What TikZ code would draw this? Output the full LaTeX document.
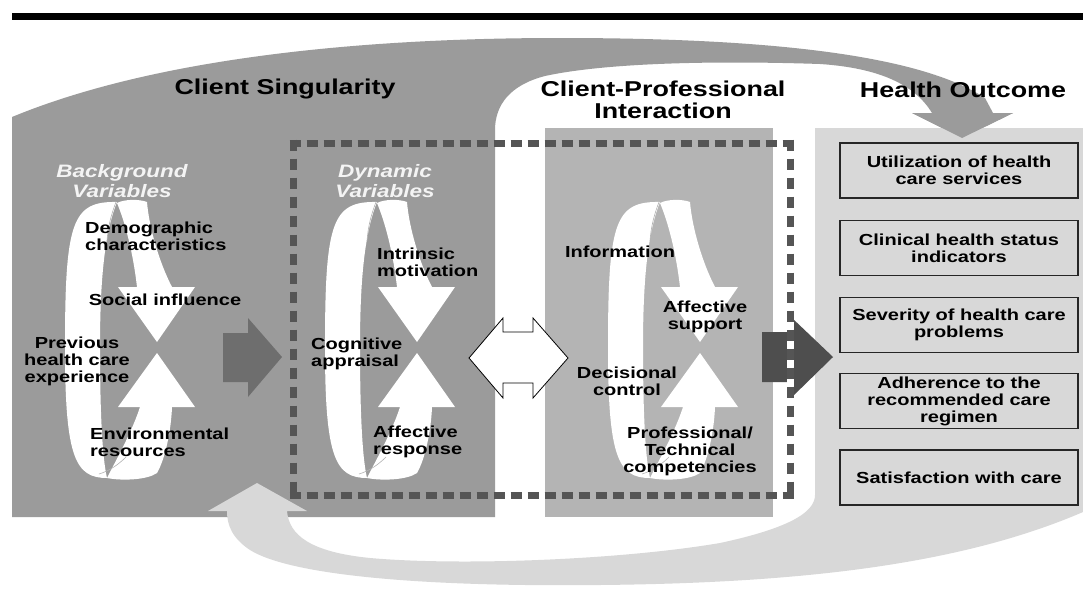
\documentclass[tikz,border=0pt]{standalone}
\usepackage{fontspec}
\newfontfamily\labfont{Liberation Sans}[FakeStretch=1.25]
\definecolor{cdark}{RGB}{155,155,155}
\definecolor{cmid}{RGB}{180,180,180}
\definecolor{clight}{RGB}{216,216,216}
\definecolor{carrowl}{RGB}{110,110,110}
\definecolor{carrowr}{RGB}{78,78,78}
\definecolor{cdash}{RGB}{85,85,85}
\definecolor{hdgcol}{RGB}{244,244,244}
\newcommand{\myloop}[1]{%
\begin{scope}[shift={#1}]
  \fill[white] (-40,-145) .. controls (-85,-146) and (-92,-125) .. (-92,0) .. controls (-92,110) and (-82,131) .. (-50,131) .. controls (-55,110) and (-57,60) .. (-57,0) .. controls (-57,-70) and (-52,-115) .. (-40,-145) -- cycle;
  \fill[white] (-20,-60) .. controls (-24,-95) and (-32,-125) .. (-40,-144) .. controls (-32,-148) and (-18,-148) .. (-10,-145) .. controls (-8,-120) and (2,-85) .. (15,-60) -- (38,-60) -- (0,-5) -- (-39,-60) -- cycle;
  \fill[white] (-39,60) -- (0,6) -- (38,60) -- (15,60) .. controls (14,85) and (8,112) .. (0,126) .. controls (-10,133) and (-35,134) .. (-50,131) .. controls (-42,115) and (-25,85) .. (-17,60) -- cycle;
  \draw[fold] (-41,-145) .. controls (-46,-132) and (-49,-120) .. (-50,-106);
  \draw[fold] (-31,110) .. controls (-39,118) and (-48,124) .. (-58,127);
\end{scope}}
\begin{document}
\begin{tikzpicture}[x=1pt,y=-1pt,
  lab/.style={font=\labfont\bfseries\fontsize{16}{17}\selectfont, inner sep=0pt, align=center, text=black},
  labl/.style={lab, align=left, anchor=west},
  ttl/.style={font=\labfont\bfseries\fontsize{21.5}{22}\selectfont, inner sep=0pt, align=center, text=black},
  hdg/.style={font=\labfont\bfseries\itshape\fontsize{18}{20}\selectfont, inner sep=0pt, align=center, text=hdgcol},
  obox/.style={draw=black!85, line width=1.4pt, fill=clight, minimum width=238pt, minimum height=55pt, inner sep=0pt, align=center, font=\labfont\bfseries\fontsize{16}{17}\selectfont},
  fold/.style={draw=black!30, line width=0.6pt},
  dashh/.style={draw=cdash, line width=7pt, dash pattern=on 11pt off 6pt},
  dashv/.style={draw=cdash, line width=7pt, dash pattern=on 11pt off 8pt}
]
\useasboundingbox (0,0) rectangle (1083,605);
\fill[white] (0,0) rectangle (1083,605);
% top rule
\fill[black] (12,13) rectangle (1083,20);
% client singularity region with top arrow
\fill[cdark] (12,517) -- (12,117) .. controls (150,60) and (350,38) .. (560,38) .. controls (770,38) and (920,55) .. (985,98) -- (993,113) -- (1013,113) -- (962,138) -- (912,113) -- (932,113) .. controls (915,85) and (880,68) .. (820,64) .. controls (700,60) and (600,64) .. (545,76) .. controls (510,85) and (495,105) .. (495,130) -- (495,517) -- cycle;
% client-professional panel
\fill[cmid] (545,128) rectangle (773,517);
% health outcome panel with return arrow
\fill[clight] (815,128) -- (1083,128) -- (1083,512) .. controls (960,565) and (800,583) .. (600,585) .. controls (420,587) and (290,575) .. (250,550) .. controls (232,538) and (227,525) .. (227,511) -- (208,511) -- (257,483) -- (307,511) -- (287,511) .. controls (289,535) and (310,552) .. (370,558) .. controls (460,566) and (620,560) .. (720,543) .. controls (790,528) and (815,512) .. (815,495) -- cycle;
\fill[cdark] (912,113) -- (1013,113) -- (962,138) -- cycle;
% loops
\myloop{(157,347)}
\myloop{(417,347)}
\myloop{(700,347)}
% arrows
\fill[carrowl] (223,333) -- (248,333) -- (248,318) -- (282,357) -- (248,397) -- (248,382) -- (223,382) -- cycle;
\fill[carrowr] (762,332) -- (792,332) -- (792,318) -- (833,357) -- (792,397) -- (792,382) -- (762,382) -- cycle;
\draw[black, line width=0.8pt, fill=white] (469,358) -- (503,318) -- (503,332) -- (533,332) -- (533,318) -- (568,358) -- (533,398) -- (533,383) -- (503,383) -- (503,398) -- cycle;
% dashed frame
\draw[white, line width=7pt] (790,322) -- (790,393);
\draw[dashh] (289.5,143) -- (793.5,143);
\draw[dashh] (289.5,495) -- (793.5,495);
\draw[dashv] (293,139.5) -- (293,498.5);
\draw[dashv] (790,139.5) -- (790,498.5);
% titles
\node[ttl] (t1) at (285,89) {Client Singularity};
\node[ttl] (t2) at (663,100) {Client-Professional\\Interaction};
\node[ttl] (t3) at (963,90) {Health Outcome};
\node[hdg] (h1) at (122,181) {Background\\Variables};
\node[hdg] (h2) at (385,181) {Dynamic\\Variables};
% loop 1 labels
\node[labl] (a1) at (85,236) {Demographic\\characteristics};
\node[lab] (a2) at (165,300) {Social influence};
\node[lab] (a3) at (77,361) {Previous\\health care\\experience};
\node[labl] (a4) at (90,442) {Environmental\\resources};
% loop 2 labels
\node[labl] (b1) at (377,262) {Intrinsic\\motivation};
\node[labl] (b2) at (311,354) {Cognitive\\appraisal};
\node[labl] (b3) at (373,442) {Affective\\response};
% loop 3 labels
\node[lab] (c1) at (620,252) {Information};
\node[lab] (c2) at (705,317) {Affective\\support};
\node[lab] (c3) at (627,381) {Decisional\\control};
\node[lab] (c4) at (690,451) {Professional/\\Technical\\competencies};
% outcome boxes
\node[obox] (o1) at (959,170.5) {Utilization of health\\care services};
\node[obox] (o2) at (959,248) {Clinical health status\\indicators};
\node[obox] (o3) at (959,325) {Severity of health care\\problems};
\node[obox] (o4) at (959,401) {Adherence to the\\recommended care\\regimen};
\node[obox] (o5) at (959,477.5) {Satisfaction with care};
\end{tikzpicture}
\end{document}
